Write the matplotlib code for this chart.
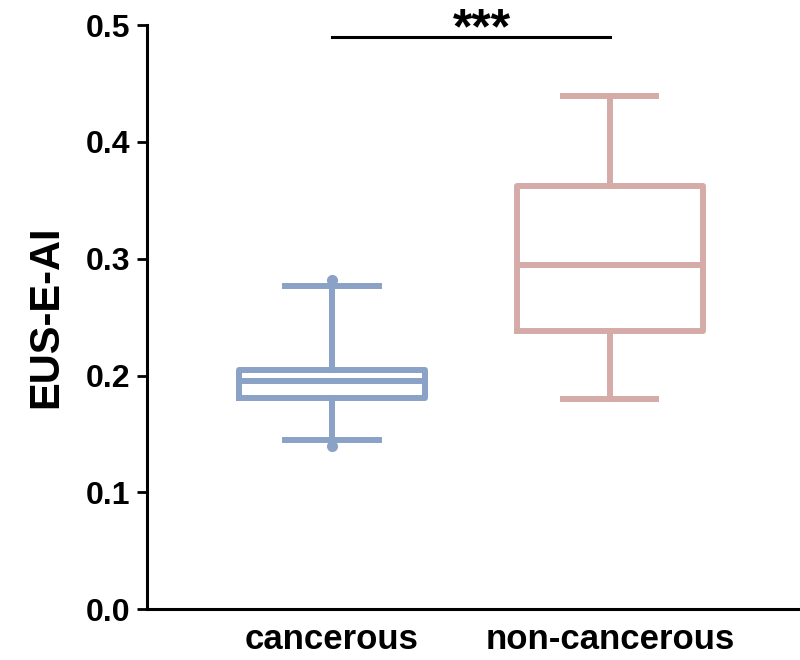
import matplotlib
matplotlib.use('Agg')
import matplotlib.pyplot as plt

# box statistics
groups = ["cancerous", "non-cancerous"]
q1 = [0.181, 0.238]
med = [0.195, 0.295]
q3 = [0.205, 0.362]
whis_lo = [0.145, 0.180]
whis_hi = [0.277, 0.439]
fliers = [[0.140, 0.282], []]
colors = ["#8ba2c7", "#d5aba8"]
yticks = [0.0, 0.1, 0.2, 0.3, 0.4, 0.5]

plt.rcParams['font.family'] = ['Liberation Sans', 'DejaVu Sans']
plt.rcParams['font.weight'] = 'bold'

fig = plt.figure(figsize=(8, 6.6), dpi=100)
ax = fig.add_axes([0.184, 0.077, 0.816, 0.885])

stats = []
for i, g in enumerate(groups):
    stats.append({"label": g, "q1": q1[i], "med": med[i], "q3": q3[i],
                  "whislo": whis_lo[i], "whishi": whis_hi[i], "fliers": fliers[i]})

positions = [1, 2]
for i, st in enumerate(stats):
    c = colors[i]
    lw = 4.3
    ax.bxp([st], positions=[positions[i]], widths=0.67, showfliers=True,
           boxprops=dict(color=c, linewidth=lw),
           medianprops=dict(color=c, linewidth=lw),
           whiskerprops=dict(color=c, linewidth=lw),
           capprops=dict(color=c, linewidth=lw),
           capwidths=0.335,
           flierprops=dict(marker='o', markerfacecolor=c, markeredgecolor=c,
                           markersize=7))

# significance bar
ax.plot([1, 2], [0.49, 0.49], color='black', linewidth=2.2, clip_on=False)
ax.text(1.54, 0.484, "***", ha='center', va='baseline', fontsize=36,
        fontweight='bold', clip_on=False)

ax.set_xlim(0.335, 2.684)
ax.set_ylim(0, 0.5)
ax.set_yticks(yticks)
ax.set_yticklabels([f"{t:.1f}" for t in yticks])
ax.set_xticks(positions)
ax.set_xticklabels(groups)
ax.set_ylabel("EUS-E-AI", fontsize=30, fontweight='bold', labelpad=14)

for s in ["top", "right"]:
    ax.spines[s].set_visible(False)
for s in ["left", "bottom"]:
    ax.spines[s].set_linewidth(2.2)
ax.tick_params(axis='y', labelsize=23, width=2, length=7, pad=5)
ax.tick_params(axis='x', labelsize=25, length=0, pad=10)
for lab in ax.get_xticklabels() + ax.get_yticklabels():
    lab.set_fontweight('bold')

fig.savefig("out.png", dpi=100)
